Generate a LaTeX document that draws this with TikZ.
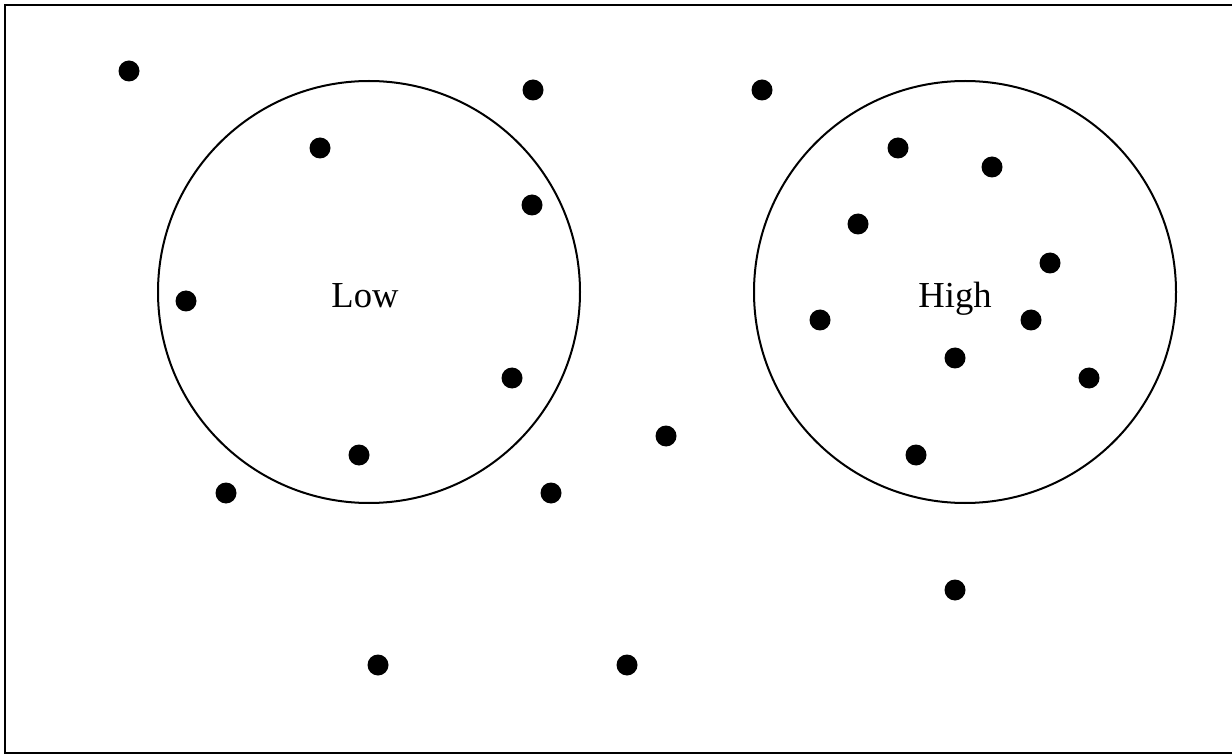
\documentclass[tikz,border=0pt]{standalone}
\usepackage{fontspec}
\setmainfont{Liberation Serif}
\usepackage{tikz}

\begin{document}
\begin{tikzpicture}[x=0.5pt, y=-0.5pt, line width=1pt,
	every node/.style={font=\fontsize{18.3}{22}\selectfont},
	group/.style={draw, circle, minimum size=211pt, inner sep=0pt},
	pt/.style={fill, circle, minimum size=10.5pt, inner sep=0pt}]
	\useasboundingbox (0,0) rectangle (1232,754);
	\draw (5,5) rectangle (1233,753);
	% the two groups
	\node[group] (low) at (369,292) {};
	\node[group] (high) at (965,292) {};
	\node[anchor=base] (lowlabel) at (365,307) {Low};
	\node[anchor=base] (highlabel) at (955,307) {High};
	% the points
	\foreach \px/\py [count=\i] in {129/71, 533/90, 762/90, 320/148, 532/205, 186/301, 512/378, 359/455, 226/493, 551/493, 666/436, 378/665, 627/665, 898/148, 992/167, 858/224, 1050/263, 820/320, 1031/320, 955/358, 1089/378, 916/455, 955/590}
		\node[pt] (p\i) at (\px,\py) {};
\end{tikzpicture}
\end{document}
